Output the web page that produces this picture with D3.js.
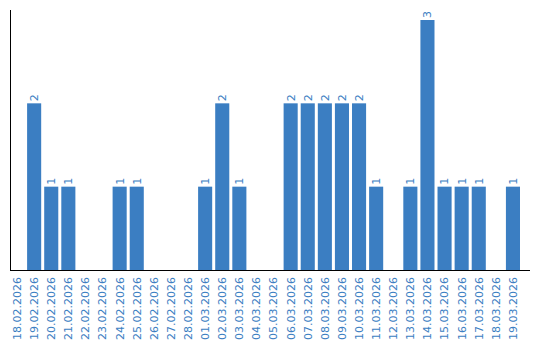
<!DOCTYPE html>
<html>
<head>
<meta charset="utf-8">
<script src="https://cdn.jsdelivr.net/npm/d3@7"></script>
<style>
  body { margin: 0; background: #fff; }
  text { font-family: "DejaVu Sans", sans-serif; }
</style>
</head>
<body>
<div id="chart"></div>
<script>
// daily counts, 18.02.2026 - 19.03.2026
const dates = [
    "18.02.2026", "19.02.2026", "20.02.2026", "21.02.2026", "22.02.2026", "23.02.2026",
    "24.02.2026", "25.02.2026", "26.02.2026", "27.02.2026", "28.02.2026", "01.03.2026",
    "02.03.2026", "03.03.2026", "04.03.2026", "05.03.2026", "06.03.2026", "07.03.2026",
    "08.03.2026", "09.03.2026", "10.03.2026", "11.03.2026", "12.03.2026", "13.03.2026",
    "14.03.2026", "15.03.2026", "16.03.2026", "17.03.2026", "18.03.2026", "19.03.2026"
];
const counts = [0, 2, 1, 1, 0, 0, 1, 1, 0, 0, 0, 1, 2, 1, 0, 0, 2, 2, 2, 2, 2, 1, 0, 1, 3, 1, 1, 1, 0, 1];

const width = 540, height = 340;
const plotLeft = 10, plotRight = 530, plotBottom = 270, plotTop = 20;
const blue = "#3b7ec2";

const svg = d3.select("#chart").append("svg")
    .attr("width", width)
    .attr("height", height);

const x = d3.scaleBand()
    .domain(dates)
    .range([plotLeft, plotLeft + dates.length * 17])
    .paddingInner(3 / 17)
    .paddingOuter(0)
    .align(0);

const y = d3.scaleLinear()
    .domain([0, d3.max(counts)])
    .range([plotBottom, plotTop]);

const rows = dates.map((d, i) => ({ date: d, value: counts[i] }));

// bars
svg.selectAll("rect.bar")
    .data(rows.filter(d => d.value > 0))
    .enter().append("rect")
    .attr("class", "bar")
    .attr("x", d => x(d.date))
    .attr("y", d => y(d.value))
    .attr("width", x.bandwidth())
    .attr("height", d => plotBottom - y(d.value))
    .style("fill", blue);

// value labels above the bars, rotated
svg.selectAll("text.val")
    .data(rows.filter(d => d.value > 0))
    .enter().append("text")
    .attr("class", "val")
    .attr("transform", d => `translate(${x(d.date) + x.bandwidth() / 2},${y(d.value) - 2}) rotate(-90)`)
    .attr("dy", "0.35em")
    .attr("text-anchor", "start")
    .style("font-size", "11px")
    .style("fill", blue)
    .text(d => d.value);

// axes lines
svg.append("line")
    .attr("x1", plotLeft + 0.5).attr("x2", plotLeft + 0.5)
    .attr("y1", 10).attr("y2", plotBottom)
    .style("stroke", "#000");
svg.append("line")
    .attr("x1", plotLeft).attr("x2", plotRight)
    .attr("y1", plotBottom + 0.5).attr("y2", plotBottom + 0.5)
    .style("stroke", "#000");

// date labels
svg.selectAll("text.tick")
    .data(dates)
    .enter().append("text")
    .attr("class", "tick")
    .attr("transform", d => `translate(${x(d) + x.bandwidth() / 2},${plotBottom + 7}) rotate(-90)`)
    .attr("dy", "0.35em")
    .attr("text-anchor", "end")
    .style("font-size", "11px")
    .style("fill", blue)
    .text(d => d);
</script>
</body>
</html>
